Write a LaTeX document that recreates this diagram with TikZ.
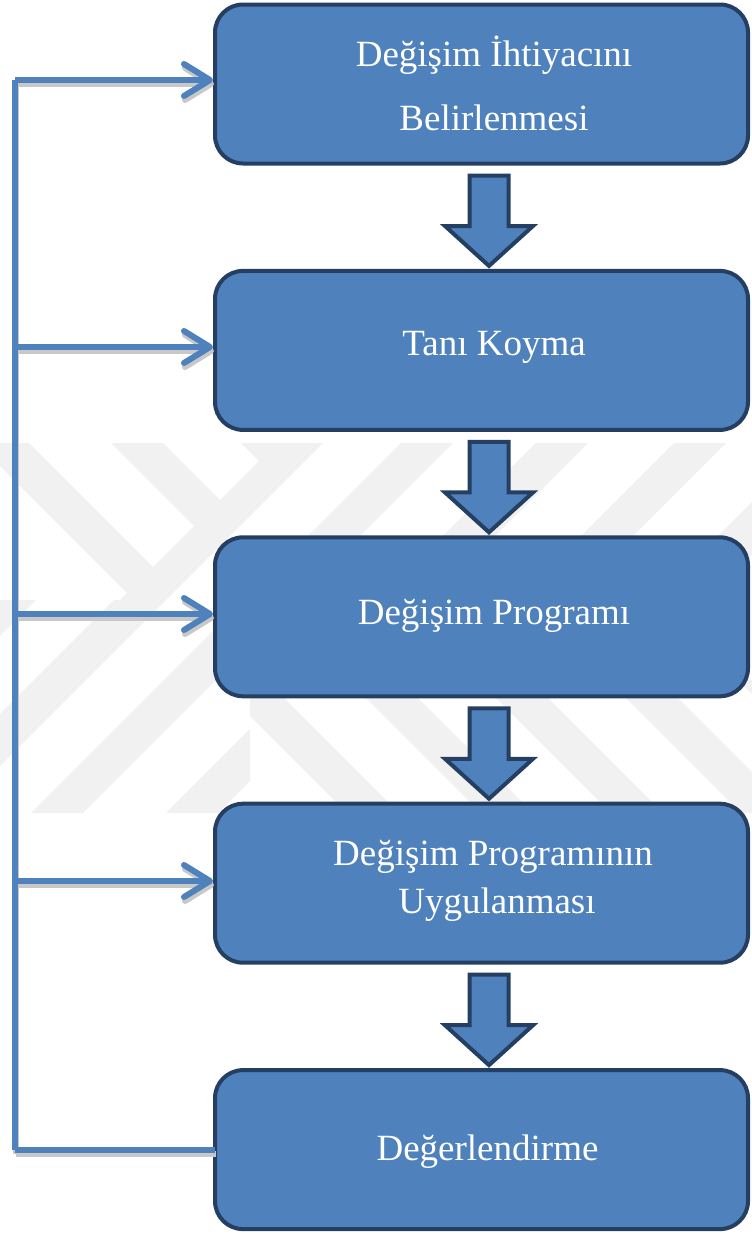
\documentclass[tikz,border=0pt]{standalone}
\usepackage{fontspec}
\setmainfont{Liberation Serif}
\usetikzlibrary{calc,arrows.meta}
\definecolor{boxblue}{HTML}{4F81BD}
\definecolor{boxedge}{HTML}{253F62}
\definecolor{wm}{HTML}{F1F1F1}
\definecolor{shadowgray}{HTML}{C8C8C8}
\begin{document}
\begin{tikzpicture}[x=1pt,y=-1pt,
  stagebox/.style={draw=boxedge, line width=4pt, fill=boxblue, rounded corners=28pt,
    minimum width=533pt, minimum height=159pt, inner sep=0pt, outer sep=0pt},
  stagetext/.style={text=white, font=\fontsize{37}{37}\selectfont, anchor=base, inner sep=0pt},
  flowarrow/.style={draw=boxedge, line width=4pt, fill=boxblue, line join=miter},
  feedback/.style={draw=boxblue, line width=6pt, line cap=butt},
  feedshadow/.style={draw=shadowgray, line width=6pt, line cap=butt},
  tipbarb/.style={-{Straight Barb[length=26pt, width=32pt, round]}, shorten >=2pt},
  band/.style={draw=wm, line width=37pt}
]
\useasboundingbox (0,0) rectangle (752,1234);

% faint watermark bands
\begin{scope}
  \clip (277,443) -- (752,443) -- (752,680) -- (250,680) -- (250,813) -- (0,813) -- (0,600) -- (120,600) -- cycle;
  \foreach \c in {610,740,870,1005,1143,1280}{
    \draw[band] (\c-300,300) -- (\c-1000,1000);
  }
\end{scope}
\begin{scope}
  \clip (0,443) -- (277,443) -- (120,600) -- (0,600) -- cycle
        (250,680) -- (752,680) -- (752,813) -- (250,813) -- cycle;
  \foreach \d in {-440,-306,-176,-46,84}{
    \draw[band] (\d+300,300) -- (\d+1000,1000);
  }
\end{scope}

% stage boxes
\node[stagebox] (b1) at (481.5,84) {};
\node[stagebox] (b2) at (481.5,350.4) {};
\node[stagebox] (b3) at (481.5,616.8) {};
\node[stagebox] (b4) at (481.5,883.2) {};
\node[stagebox] (b5) at (481.5,1149.6) {};

% texts
\node[stagetext] (t1a) at (494,66.7) {Değişim İhtiyacını};
\node[stagetext] (t1b) at (494,130) {Belirlenmesi};
\node[stagetext] (t2) at (494,355) {Tanı Koyma};
\node[stagetext] (t3) at (494,624) {Değişim Programı};
\node[stagetext] (t4a) at (493,865) {Değişim Programının};
\node[stagetext] (t4b) at (497,913) {Uygulanması};
\node[stagetext] (t5) at (487.5,1160) {Değerlendirme};

% block arrows between boxes
\foreach \a/\b in {b1/b2,b2/b3,b3/b4,b4/b5}{
  \draw[flowarrow] ($(\a.south)+(-12,12)$) -- ($(\a.south)+(27,12)$)
    -- ($(\a.south)+(27,62.5)$) -- ($(\a.south)+(51.5,62.5)$)
    -- ($(\b.north)+(7.5,-5)$)
    -- ($(\a.south)+(-36.5,62.5)$) -- ($(\a.south)+(-12,62.5)$) -- cycle;
}

% feedback spine
\coordinate (s1) at (15,80);
\coordinate (s2) at (15,347);
\coordinate (s3) at (15,614);
\coordinate (s4) at (15,881);
\coordinate (s5) at (15,1150);

% shadows
\begin{scope}[transform canvas={xshift=1pt,yshift=-4pt}]
\draw[feedshadow] (s1) -- (s5);
\draw[feedshadow] (b5.west |- s5) -- (s5);
\draw[feedshadow, tipbarb] (s1) -- (s1 -| b1.west);
\draw[feedshadow, tipbarb] (s2) -- (s2 -| b2.west);
\draw[feedshadow, tipbarb] (s3) -- (s3 -| b3.west);
\draw[feedshadow, tipbarb] (s4) -- (s4 -| b4.west);
\end{scope}

% lines
\draw[feedback] (s1) -- (s5);
\draw[feedback] (b5.west |- s5) -- (s5);
\draw[feedback, tipbarb] (s1) -- (s1 -| b1.west);
\draw[feedback, tipbarb] (s2) -- (s2 -| b2.west);
\draw[feedback, tipbarb] (s3) -- (s3 -| b3.west);
\draw[feedback, tipbarb] (s4) -- (s4 -| b4.west);
\end{tikzpicture}
\end{document}
